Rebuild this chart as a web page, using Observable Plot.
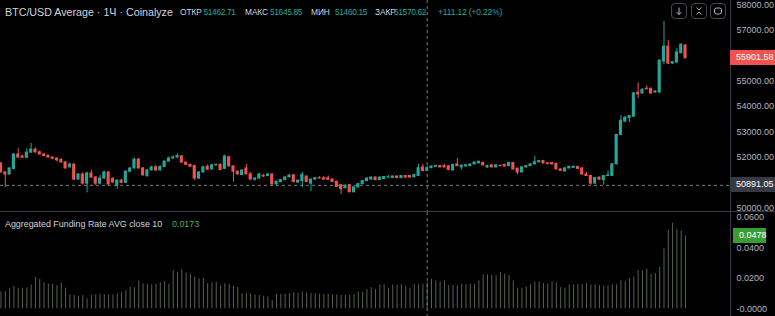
<!DOCTYPE html>
<html><head><meta charset="utf-8">
<script src="https://cdn.jsdelivr.net/npm/d3@7"></script>
<script src="https://cdn.jsdelivr.net/npm/@observablehq/plot@0.6"></script>
<style>
html,body{margin:0;padding:0;background:#000;}
#root{position:relative;width:775px;height:316px;background:#000;overflow:hidden;font-family:"Liberation Sans",Arial,sans-serif;}
#root svg.plot{position:absolute;left:0;}
.t{position:absolute;white-space:nowrap;line-height:1;}
.box{position:absolute;font-size:9px;line-height:15px;height:15px;padding-left:6px;box-sizing:border-box;font-family:"Liberation Sans",Arial,sans-serif;}
.btn{position:absolute;top:3px;width:16px;height:16px;border:1px solid #434651;border-radius:4px;box-sizing:border-box;}
</style></head>
<body><div id="root"></div>
<script>
// ---- data: hourly candles, BTC/USD aggregated ----
const open = [51750,51400,51320,51540,52110,52030,51980,52180,52300,52200,
52110,52060,51990,51950,51900,51800,51600,51710,51120,51320,
50960,51360,51200,50960,51160,51400,51150,50880,51080,50990,
51430,51560,51910,51560,51250,51480,51600,51480,51620,51830,
51950,51990,52030,51790,51700,51650,51160,51400,51620,51520,
51680,51700,51540,52000,51640,51430,51300,51560,51330,51120,
51160,51260,51260,51320,50930,51020,51100,51210,51290,51000,
51060,51240,50960,51120,51170,51170,51170,51120,51030,50900,
50780,50900,50620,50810,50940,51060,51120,51200,51100,51140,
51200,51180,51240,51180,51260,51260,51210,51260,51600,51462.71,
51570,51620,51650,51650,51640,51480,51720,51600,51640,51650,
51720,51760,51780,51600,51680,51600,51660,51700,51650,51770,
51550,51400,51600,51650,51720,51800,51850,51760,51770,51740,
51520,51440,51560,51580,51620,51560,51320,51260,50960,51200,
51100,51260,51260,51720,52880,53400,53540,53600,54540,54510,
54700,54700,54550,54550,55770,56360,55690,55730,56100,56400];
const high = [51800,51420,51580,52130,52340,52080,52340,52540,52360,52240,
52140,52080,52010,51970,51930,51820,51780,51740,51360,51380,
51400,51480,51230,51280,51450,51420,51200,51100,51120,51460,
51580,51960,51940,51590,51520,51650,51680,51660,51850,52020,
52060,52130,52060,51810,51720,51680,51420,51640,51700,51720,
51730,51740,52080,52040,51660,51460,51500,51720,51400,51200,
51360,51320,51360,51340,51060,51120,51240,51300,51310,51100,
51400,51260,51140,51200,51240,51240,51260,51160,51060,50920,
50900,50920,50830,50960,51080,51180,51220,51220,51220,51240,
51280,51260,51260,51280,51280,51280,51320,51720,51720,51645.85,
51660,51680,51680,51720,51660,51720,51950,51700,51700,51730,
51810,51850,51800,51680,51700,51700,51690,51720,51800,51790,
51570,51620,51670,51740,52040,51870,51880,51780,51800,51760,
51540,51580,51640,51660,51640,51580,51400,51280,51200,51220,
51280,51450,51740,52900,53640,53600,53640,54540,54930,54700,
54820,54720,54610,55830,57350,56600,55770,56280,56460,56440];
const low = [51380,50810,51300,51500,51960,51950,51960,52160,52170,52080,
52030,51970,51900,51800,51760,51530,51580,51080,51100,50900,
50600,51170,50880,50900,51130,50880,50960,50730,50960,50960,
51410,51540,51540,51250,51230,51460,51450,51460,51600,51810,
51930,51970,51770,51680,51600,51080,51120,51380,51490,51500,
51660,51480,51520,51620,51020,51300,51280,51300,51090,51050,
51140,51200,51240,50900,50900,50990,51080,51190,51000,50980,
50800,51000,50650,51100,51140,51100,51090,51000,50800,50530,
50760,50600,50600,50790,50920,51040,51100,51080,51080,51120,
51180,51160,51160,51160,51180,51180,51190,51240,51440,51460.15,
51550,51600,51580,51580,51470,51460,51630,51500,51620,51640,
51700,51740,51660,51560,51580,51580,51630,51620,51630,51500,
51320,51380,51580,51630,51700,51780,51740,51710,51700,51500,
51440,51420,51540,51560,51520,51300,51240,50900,50940,51080,
50900,51240,51240,51700,52860,53380,53360,53580,54310,54490,
54660,54490,54530,54530,55640,55650,55650,55710,56080,55880];
const close = [51400,51320,51560,52110,51990,51980,52180,52300,52190,52110,
52050,51990,51940,51880,51800,51560,51710,51120,51320,50960,
51360,51200,50960,51160,51400,50930,51010,51080,50990,51430,
51560,51910,51560,51290,51480,51600,51480,51620,51830,51950,
51990,52050,51790,51700,51630,51160,51400,51600,51510,51680,
51700,51500,52030,51640,51430,51330,51480,51330,51120,51160,
51320,51240,51320,50930,51040,51100,51200,51280,51020,51080,
51310,51030,51120,51180,51160,51120,51110,51030,50830,50740,
50880,50620,50810,50940,51060,51160,51200,51100,51200,51220,
51210,51240,51180,51260,51200,51200,51300,51570,51459.5,51570.62,
51630,51660,51600,51600,51500,51700,51650,51670,51680,51710,
51790,51820,51680,51660,51600,51680,51650,51640,51780,51520,
51400,51600,51650,51720,51800,51850,51760,51730,51720,51520,
51460,51560,51620,51620,51540,51320,51260,50960,51180,51120,
51260,51280,51720,52880,53440,53560,53620,54520,54480,54660,
54680,54510,54590,55810,56360,55690,55750,56130,56440,55901.58];
// Aggregated funding rate, AVG close 10 (one value per candle)
const fundingRate = [0.0110,0.0113,0.0131,0.0146,0.0135,0.0135,0.0137,0.0157,0.0207,0.0192,
0.0170,0.0163,0.0161,0.0152,0.0170,0.0135,0.0091,0.0087,0.0082,0.0087,
0.0065,0.0087,0.0091,0.0095,0.0091,0.0091,0.0091,0.0095,0.0105,0.0118,
0.0139,0.0139,0.0183,0.0163,0.0161,0.0157,0.0161,0.0170,0.0178,0.0161,
0.0250,0.0239,0.0257,0.0235,0.0226,0.0207,0.0196,0.0200,0.0165,0.0170,
0.0174,0.0152,0.0165,0.0161,0.0148,0.0141,0.0100,0.0100,0.0095,0.0091,
0.0087,0.0082,0.0078,0.0056,0.0095,0.0095,0.0095,0.0100,0.0105,0.0100,
0.0109,0.0105,0.0100,0.0100,0.0095,0.0095,0.0095,0.0091,0.0091,0.0087,
0.0087,0.0087,0.0091,0.0109,0.0109,0.0126,0.0139,0.0126,0.0157,0.0157,
0.0135,0.0157,0.0152,0.0157,0.0148,0.0135,0.0157,0.0157,0.0161,0.0173,
0.0192,0.0183,0.0178,0.0183,0.0152,0.0152,0.0152,0.0161,0.0157,0.0161,
0.0161,0.0183,0.0222,0.0222,0.0218,0.0218,0.0239,0.0226,0.0218,0.0183,
0.0135,0.0135,0.0144,0.0157,0.0174,0.0174,0.0165,0.0161,0.0178,0.0170,
0.0139,0.0135,0.0157,0.0157,0.0161,0.0161,0.0165,0.0157,0.0157,0.0152,
0.0148,0.0152,0.0157,0.0157,0.0183,0.0178,0.0196,0.0209,0.0252,0.0248,
0.0261,0.0226,0.0231,0.0274,0.0392,0.0514,0.0562,0.0518,0.0510,0.0478];
// tick labels visible on the price scale (others hidden behind the price labels)
const priceTicks = [50000,52000,53000,54000,55000,57000,58000];
const rateTicks = [0,0.02,0.04,0.06];
const rateTickLabels = ["-0.0000","0.0200","0.0400","0.0600"];
const crossIndex = 99;
const crossPrice = 50891.05;
const ohlcLabels = ["ОТКР","МАКС","МИН","ЗАКР"];
const title = "BTC/USD Average · 1Ч · Coinalyze";
const indicatorTitle = "Aggregated Funding Rate AVG close 10";

// ---- colours ----
const UP = "#26a69a", DOWN = "#ef5350", BAR = "#56614f", CROSS = "#787b86", AXIS = "#b2b5be", TXT = "#d1d4dc", LINE = "#363a45", GREEN = "#4caf50";

const candles = open.map((o, i) => ({i, o, h: high[i], l: low[i], c: close[i]}));
const rates = fundingRate.map((v, i) => ({i, v}));
const col = d => d.c >= d.o ? UP : DOWN;

const W = 775, PR = 45, TOPH = 212, BOTH = 104;
const xOpt = {domain: [-0.116, 169.45], axis: null};
const style = {background: "transparent", color: AXIS, fontSize: "9px", fontFamily: "'Liberation Sans', Arial, sans-serif"};

const topChart = Plot.plot({
  width: W, height: TOPH, marginTop: 0, marginBottom: 0, marginLeft: 0, marginRight: PR,
  style,
  x: xOpt,
  y: {domain: [50000, 58000], range: [207.5, 4.5], axis: null},
  marks: [
    Plot.ruleY([crossPrice], {stroke: CROSS, strokeDasharray: "3,3", strokeWidth: 1}),
    Plot.ruleX([crossIndex], {stroke: CROSS, strokeDasharray: "3,3", strokeWidth: 1}),
    Plot.ruleX(candles, {x: "i", y1: "l", y2: "h", stroke: col, strokeWidth: 1}),
    Plot.rect(candles, {x1: d => d.i - 0.36, x2: d => d.i + 0.36, y1: "o", y2: "c", fill: col, insetTop: -0.5, insetBottom: -0.5}),
    Plot.axisY({anchor: "right", label: null, ticks: priceTicks, tickFormat: d => d.toFixed(2), tickSize: 0, tickPadding: 6, fill: AXIS})
  ]
});

const botChart = Plot.plot({
  width: W, height: BOTH, marginTop: 0, marginBottom: 0, marginLeft: 0, marginRight: PR,
  style,
  x: xOpt,
  y: {domain: [0, 0.06], range: [96.3, 4.7], axis: null},
  marks: [
    Plot.ruleX(rates, {x: "i", y1: 0, y2: "v", stroke: BAR, strokeWidth: 1}),
    Plot.ruleX([crossIndex], {stroke: CROSS, strokeDasharray: "3,3", strokeWidth: 1}),
    Plot.axisY({anchor: "right", label: null, ticks: rateTicks, tickFormat: (d, i) => rateTickLabels[i], tickSize: 0, tickPadding: 6, fill: AXIS})
  ]
});

const root = document.getElementById("root");
topChart.style.top = "0px";
botChart.style.top = TOPH + "px";
root.appendChild(topChart);
root.appendChild(botChart);

// separators
function line(css) { const d = document.createElement("div"); d.style.cssText = "position:absolute;background:" + LINE + ";" + css; root.appendChild(d); }
line("left:730px;top:0;width:1px;height:316px;");
line("left:0;top:211px;width:775px;height:1px;");

function text(str, x, yc, size, color, extra) {
  const s = document.createElement("div");
  s.className = "t";
  s.textContent = str;
  s.style.cssText += `left:${x}px;top:${yc - size / 2}px;font-size:${size}px;color:${color};` + (extra || "");
  root.appendChild(s);
  return s;
}
// header
text(title, 5, 12, 10.7, TXT);
const ci = crossIndex;
const vals = [open[ci], high[ci], low[ci], close[ci]].map(v => v.toFixed(2));
const labX = [180, 245, 311, 375];
const valX = [203.5, 270, 335, 394];
ohlcLabels.forEach((l, k) => {
  text(l, labX[k], 12.5, 8.4, TXT, "letter-spacing:-0.1px;");
  text(vals[k], valX[k], 12.5, 8.4, UP, "letter-spacing:-0.35px;");
});
const chg = close[ci] - close[ci - 1];
const pct = chg / close[ci - 1] * 100;
text(`${chg >= 0 ? "+" : ""}${chg.toFixed(2)} (${pct >= 0 ? "+" : ""}${pct.toFixed(2)}%)`, 438, 12.5, 8.4, UP, "letter-spacing:-0.1px;");

// indicator legend
text(indicatorTitle, 5, 224, 8.9, TXT);
text(fundingRate[ci].toFixed(4), 172, 224, 8.9, GREEN);

// price labels on the axis
const ys = topChart.scale("y"), yb = botChart.scale("y");
function box(str, yc, bg, fg, left, width) {
  const b = document.createElement("div");
  b.className = "box";
  b.textContent = str;
  b.style.cssText += `left:${left}px;width:${width}px;top:${yc - 7.5}px;background:${bg};color:${fg};`;
  root.appendChild(b);
}
box(close[close.length - 1].toFixed(2), ys.apply(close[close.length - 1]), DOWN, "#ffffff", 730, 45);
box(crossPrice.toFixed(2), ys.apply(crossPrice), "#363a45", "#ffffff", 730, 45);
box(fundingRate[fundingRate.length - 1].toFixed(4), TOPH + yb.apply(fundingRate[fundingRate.length - 1]), "#3a9d34", "#ffffff", 733, 33);

// toolbar buttons
const icons = [
  '<path d="M7 3.5v7M4.5 8l2.5 2.5L9.5 8" stroke="#b2b5be" fill="none" stroke-width="1"/>',
  '<path d="M4.5 3.5L7 6l2.5-2.5M4.5 10.5L7 8l2.5 2.5" stroke="#b2b5be" fill="none" stroke-width="1"/>',
  '<rect x="3.5" y="4" width="7" height="6" rx="2" stroke="#b2b5be" fill="none" stroke-width="1"/>'
];
[671, 691, 710].forEach((x, k) => {
  const b = document.createElement("div");
  b.className = "btn";
  b.style.left = x + "px";
  b.innerHTML = `<svg width="14" height="14" style="display:block">${icons[k]}</svg>`;
  root.appendChild(b);
});
</script>
</body></html>
